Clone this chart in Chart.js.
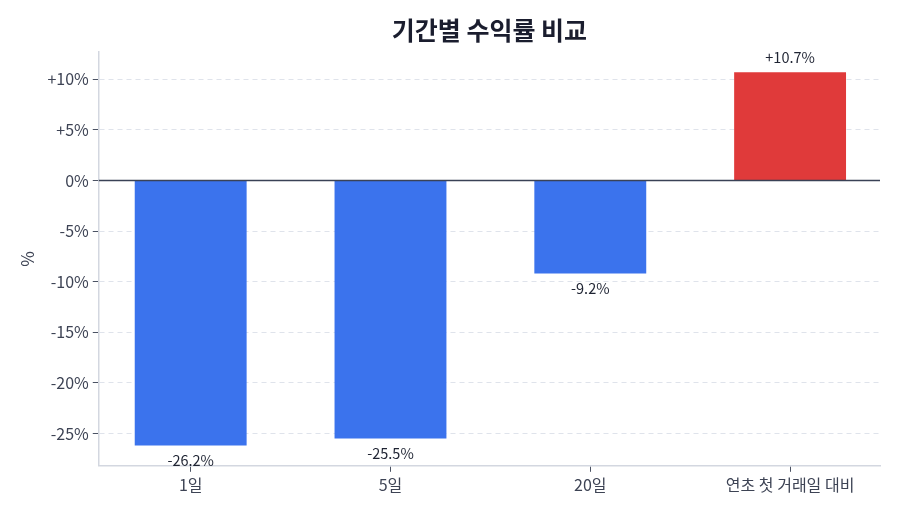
<!DOCTYPE html>
<html>
<head>
<meta charset="utf-8">
<script src="https://cdn.jsdelivr.net/npm/chart.js@4"></script>
<style>
  body { margin: 0; background: #fff; }
  #wrap { width: 900px; height: 514px; }
</style>
</head>
<body>
<div id="wrap"><canvas id="myChart"></canvas></div>
<script>
// 데이터
var categories = ['1일', '5일', '20일', '연초 첫 거래일 대비'];
var returns = [-26.2, -25.5, -9.2, 10.7];
var yTicks = [-25, -20, -15, -10, -5, 0, 5, 10];
var chartTitle = '기간별 수익률 비교';

var FONT = "'Noto Sans CJK KR', 'Noto Sans', sans-serif";

function fmt(v) {
    return (v > 0 ? '+' : '') + v + '%';
}

// 제목(플롯 영역 기준 중앙) + 0선 + 값 라벨
var labelPlugin = {
    id: 'labels',
    afterDatasetsDraw: function (chart) {
        var ctx = chart.ctx;
        var area = chart.chartArea;
        var y0 = chart.scales.y.getPixelForValue(0);
        ctx.save();

        ctx.font = 'bold 25px ' + FONT;
        ctx.fillStyle = '#1a1d2e';
        ctx.textAlign = 'center';
        ctx.textBaseline = 'middle';
        ctx.fillText(chartTitle, (area.left + area.right) / 2, 30);

        ctx.strokeStyle = '#3a4256';
        ctx.lineWidth = 1.6;
        ctx.beginPath();
        ctx.moveTo(area.left, y0);
        ctx.lineTo(area.right, y0);
        ctx.stroke();

        ctx.font = '14.5px ' + FONT;
        ctx.fillStyle = '#1f2433';
        chart.getDatasetMeta(0).data.forEach(function (bar, i) {
            var v = returns[i];
            var t = (v > 0 ? '+' : '') + v.toFixed(1) + '%';
            if (v >= 0) {
                ctx.textBaseline = 'bottom';
                ctx.fillText(t, bar.x, bar.y - 8);
            } else {
                ctx.textBaseline = 'top';
                ctx.fillText(t, bar.x, bar.y + 8);
            }
        });
        ctx.restore();
    }
};

var ctx = document.getElementById('myChart').getContext('2d');
var myChart = new Chart(ctx, {
    type: 'bar',
    data: {
        datasets: [{
            data: returns.map(function (v, i) { return { x: i, y: v }; }),
            backgroundColor: returns.map(function (v) { return v >= 0 ? '#e03a3a' : '#3b73ed'; }),
            borderWidth: 0,
            barPercentage: 0.56,
            categoryPercentage: 1
        }]
    },
    options: {
        responsive: true,
        maintainAspectRatio: false,
        animation: false,
        layout: { padding: { left: 13, right: 20, top: 52, bottom: 15 } },
        plugins: {
            legend: { display: false },
            tooltip: { enabled: false },
            title: { display: false }
        },
        scales: {
            x: {
                type: 'linear',
                offset: false,
                min: -0.46,
                max: 3.45,
                afterBuildTicks: function (axis) {
                    axis.ticks = categories.map(function (c, i) { return { value: i }; });
                },
                grid: {
                    display: true,
                    offset: false,
                    drawOnChartArea: false,
                    tickLength: 6,
                    tickColor: '#4b5263'
                },
                border: { color: '#d3d7e0', width: 1.5 },
                ticks: {
                    color: '#3d4354',
                    font: { family: FONT, size: 16 },
                    padding: 4,
                    callback: function (v) { return categories[v]; }
                }
            },
            y: {
                min: -28.2,
                max: 12.7,
                afterBuildTicks: function (axis) {
                    axis.ticks = yTicks.map(function (v) { return { value: v }; });
                },
                grid: {
                    color: '#dfe3eb',
                    tickBorderDash: [],
                    tickLength: 6,
                    tickColor: '#4b5263'
                },
                border: { color: '#d3d7e0', width: 1.5, dash: [5, 4] },
                ticks: {
                    color: '#3d4354',
                    font: { family: FONT, size: 16 },
                    padding: 4,
                    callback: function (v) { return fmt(v); }
                },
                title: {
                    display: true,
                    text: '%',
                    color: '#3d4354',
                    font: { family: FONT, size: 17 },
                    padding: { bottom: 6 }
                }
            }
        }
    },
    plugins: [labelPlugin]
});
</script>
</body>
</html>
